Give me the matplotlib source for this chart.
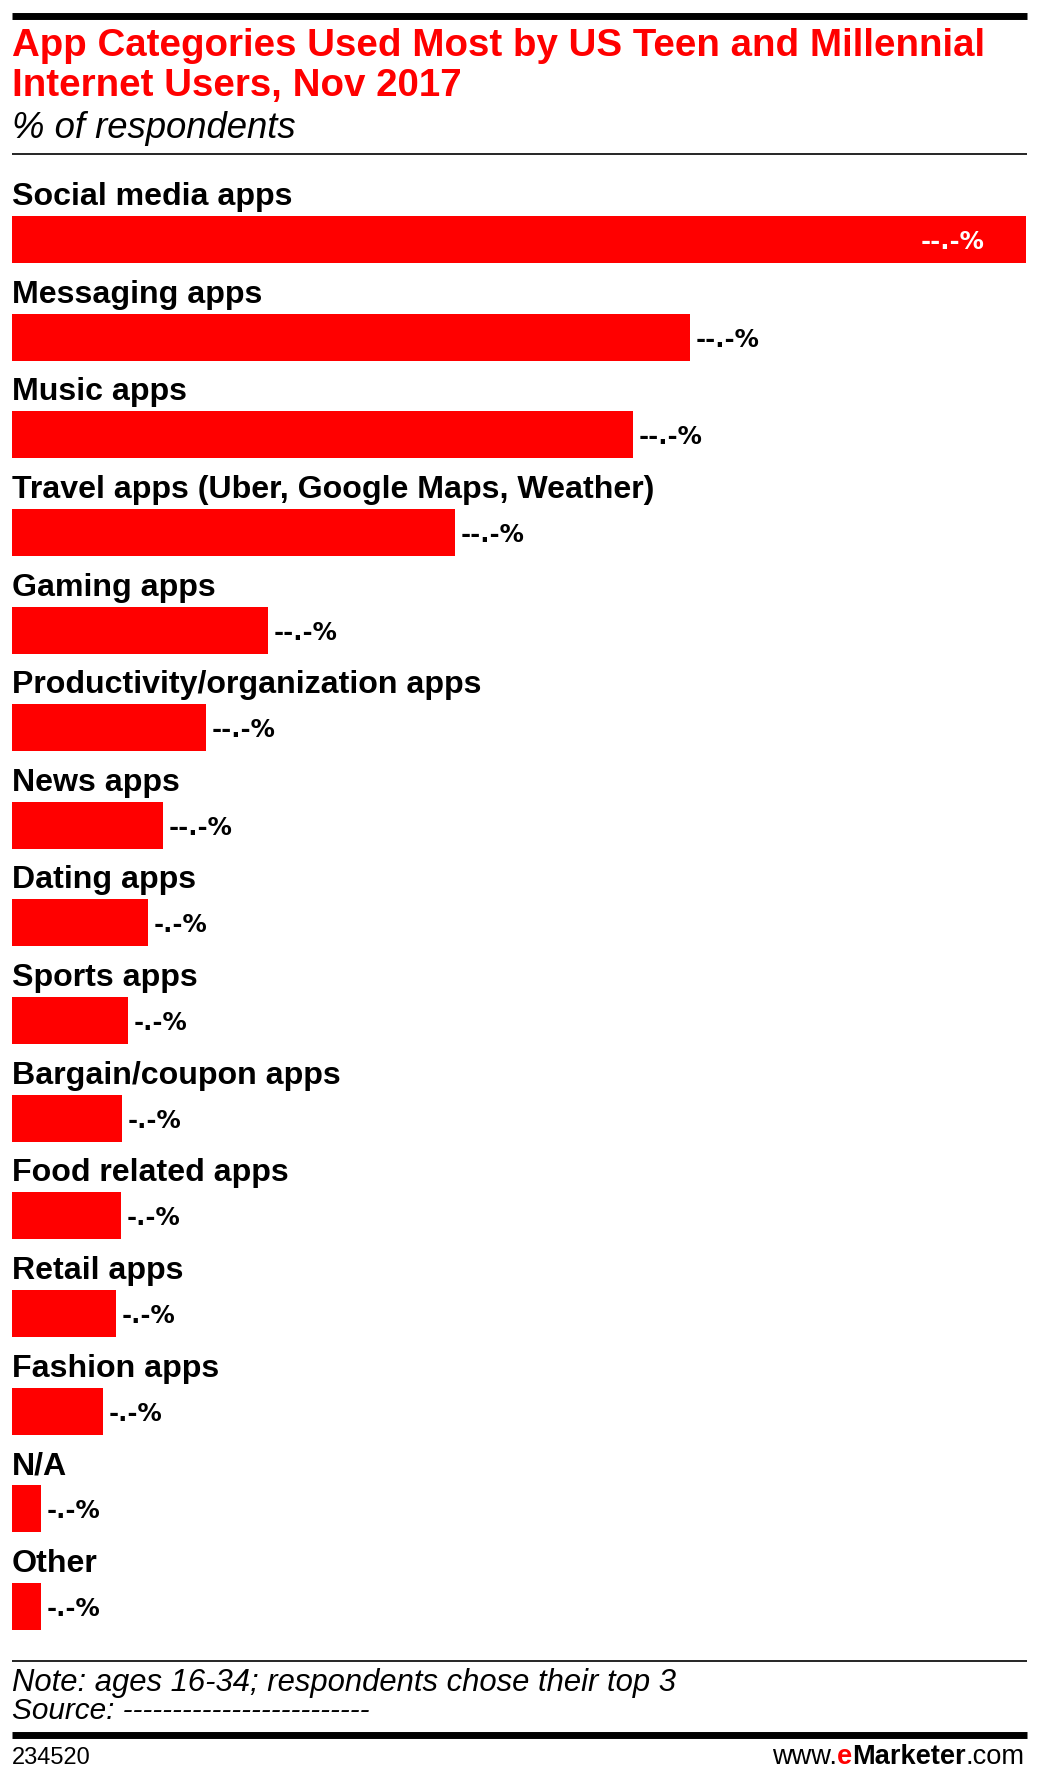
import matplotlib
matplotlib.use("Agg")
import matplotlib.pyplot as plt
from matplotlib.lines import Line2D

# data (labels are masked in the source)
categories = ["Social media apps", "Messaging apps", "Music apps",
              "Travel apps (Uber, Google Maps, Weather)", "Gaming apps",
              "Productivity/organization apps", "News apps", "Dating apps",
              "Sports apps", "Bargain/coupon apps", "Food related apps",
              "Retail apps", "Fashion apps", "N/A", "Other"]
values = [70.0, 46.8, 42.9, 30.6, 17.7, 13.4, 10.4, 9.4, 8.0, 7.6, 7.5, 7.2, 6.3, 2.0, 2.0]
value_labels = ["--.-%"] * 7 + ["-.-%"] * 8

W, H = 1038, 1784
RED = "#ff0000"
SANS = ["Liberation Sans", "DejaVu Sans"]

fig = plt.figure(figsize=(W / 100, H / 100), dpi=100)
renderer = fig.canvas.get_renderer()


def fx(px):
    return px / W


def fy(py):
    return 1 - py / H


def hline(y, lw, x0=12, x1=1027):
    fig.add_artist(Line2D([fx(x0), fx(x1)], [fy(y), fy(y)], color="black",
                          linewidth=lw, solid_capstyle="butt"))


def fit_size(s, width_px, size=20, **kw):
    # font size that makes the text as wide as measured on the reference
    t = fig.text(0, 0, s, fontsize=size, **kw)
    w = t.get_window_extent(renderer).width
    t.remove()
    return size * width_px / w


def fit_text(x, y, s, width_px, **kw):
    size = fit_size(s, width_px, **kw)
    return fig.text(fx(x), fy(y), s, fontsize=size, va="baseline", **kw)


# header
hline(15.5, 5.0)
title_size = fit_size("App Categories Used Most by US Teen and Millennial", 973,
                      fontweight="bold", family=SANS)
fig.text(fx(12), fy(56.5), "App Categories Used Most by US Teen and Millennial",
         fontsize=title_size, color=RED, fontweight="bold", family=SANS, va="baseline")
fig.text(fx(12), fy(96), "Internet Users, Nov 2017",
         fontsize=title_size, color=RED, fontweight="bold", family=SANS, va="baseline")
fit_text(12, 138, "% of respondents", 283, style="italic", family=SANS)
hline(154, 1.2)

# bars
first_c, step = 239.5, 97.64
top_px, bot_px = 160, 1650
ax = fig.add_axes([fx(12), fy(bot_px), fx(1026) - fx(12), (bot_px - top_px) / H])
n = len(categories)
ypos = list(range(n))
ax.barh(ypos, values, height=47 / step, color=RED, edgecolor="none")
ax.set_xlim(0, max(values))
ax.set_ylim(n - 1 + (bot_px - (first_c + step * (n - 1))) / step,
            -(first_c - top_px) / step)
ax.axis("off")

label_size = fit_size("Social media apps", 280, fontweight="bold", family=SANS)
for i, (cat, v, lab) in enumerate(zip(categories, values, value_labels)):
    ax.text(0, i - 34.5 / step, cat, fontsize=label_size, fontweight="bold",
            family=SANS, va="baseline", ha="left")
    if i == 0:
        ax.annotate(lab, (v, i), xytext=(-30, 0), textcoords="offset points",
                    color="white", fontsize=17.5, fontweight="bold",
                    family="DejaVu Sans", va="center_baseline", ha="right")
    else:
        ax.annotate(lab, (v, i), xytext=(4, 0), textcoords="offset points",
                    color="black", fontsize=17.5, fontweight="bold",
                    family="DejaVu Sans", va="center_baseline", ha="left")

# footer
hline(1660.5, 1.2)
fit_text(12, 1691, "Note: ages 16-34; respondents chose their top 3", 661,
         style="italic", family=SANS)
fit_text(12, 1719, "Source: -------------------------", 358,
         style="italic", family=SANS)
hline(1735, 5.0)
fit_text(12, 1764, "234520", 79, family=SANS)

# www.eMarketer.com, right aligned, pieces chained from the right edge
parts = [(".com", "normal", "black"), ("Marketer", "bold", "black"),
         ("e", "bold", RED), ("www.", "normal", "black")]
total = 0
for s, wgt, _ in parts:
    t = fig.text(0, 0, s, fontsize=20, fontweight=wgt, family=SANS)
    total += t.get_window_extent(renderer).width
    t.remove()
brand_size = 20 * 252 / total
x_right = 1025
for s, wgt, col in parts:
    t = fig.text(fx(x_right), fy(1764), s, fontsize=brand_size, fontweight=wgt,
                 color=col, family=SANS, va="baseline", ha="right")
    x_right = t.get_window_extent(renderer).x0

fig.savefig("out.png", dpi=100)
